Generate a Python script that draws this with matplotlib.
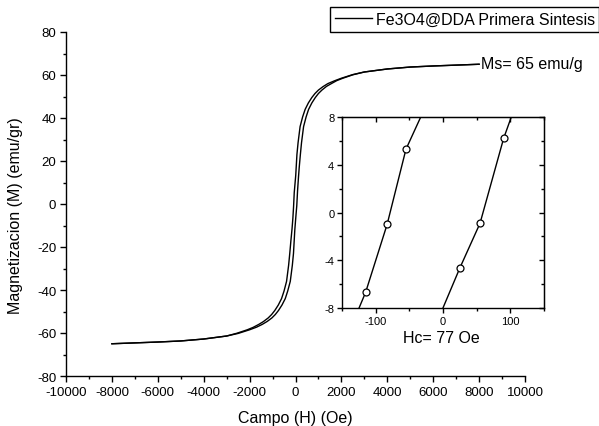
import numpy as np
import matplotlib
matplotlib.use("Agg")
import matplotlib.pyplot as plt
from matplotlib.ticker import MultipleLocator

plt.rcParams['font.family'] = ['Liberation Sans', 'DejaVu Sans']
plt.rcParams['axes.unicode_minus'] = False

# rama ascendente (campo creciente), H en Oe, M en emu/g
h_asc = [-8000, -7000, -6000, -5000, -4000, -3000, -2500, -2000, -1700, -1450,
         -1230, -1030, -880, -740, -590, -446, -340, -228, -138, -88, -30, 25,
         55, 90, 130, 162, 212, 262, 352, 462, 570, 712, 862, 1000, 1152, 1350,
         1562, 1800, 2062, 2500, 3000, 4000, 5000, 6000, 7000, 8000]
m_asc = [-65.0, -64.6, -64.2, -63.7, -62.8, -61.4, -60.2, -58.5, -57.3, -56.0,
         -54.6, -53.0, -51.4, -49.5, -47.0, -44.0, -40.5, -36.0, -28.5, -23.0,
         -12.0, -4.65, -0.9, 6.2, 12.5, 17.0, 23.0, 28.5, 36.0, 40.5, 44.0,
         47.0, 49.5, 51.4, 53.0, 54.7, 56.0, 57.4, 58.5, 60.1, 61.4, 62.8,
         63.7, 64.2, 64.6, 65.0]

# rama descendente (campo decreciente)
h_desc = [8000, 7000, 6000, 5000, 4000, 3000, 2500, 2000, 1700, 1410, 1200,
          1000, 850, 710, 560, 420, 310, 200, 112, 62, 10, -55, -83, -115,
          -150, -200, -250, -300, -390, -500, -608, -750, -900, -1040, -1190,
          -1400, -1600, -1850, -2100, -2550, -3000, -4000, -5000, -6000, -7000,
          -8000]
m_desc = [65.0, 64.6, 64.2, 63.7, 62.8, 61.4, 60.2, 58.5, 57.3, 56.0, 54.6,
          53.0, 51.4, 49.5, 47.0, 44.0, 40.5, 36.0, 28.5, 23.0, 13.3, 5.3,
          -1.0, -6.7, -11.4, -17.0, -23.0, -28.5, -36.0, -40.5, -44.0, -47.0,
          -49.5, -51.4, -53.0, -54.7, -56.0, -57.4, -58.5, -60.1, -61.4, -62.8,
          -63.7, -64.2, -64.6, -65.0]

# puntos marcados en el inset (cerca del campo coercitivo)
h_mark_asc = [25, 55, 90]
m_mark_asc = [-4.65, -0.9, 6.2]
h_mark_desc = [-55, -83, -115]
m_mark_desc = [5.3, -1.0, -6.7]

fig = plt.figure(figsize=(5.99, 4.27), dpi=100)

################## grafico principal ##################
ax = fig.add_axes([66/599, 1-377/427, 459/599, 344/427])
ax.plot(h_asc, m_asc, 'k-', lw=1.0)
ax.plot(h_desc, m_desc, 'k-', lw=1.0)
ax.set_xlim(-10000, 10000)
ax.set_ylim(-80, 80)
ax.xaxis.set_major_locator(MultipleLocator(2000))
ax.xaxis.set_minor_locator(MultipleLocator(1000))
ax.yaxis.set_major_locator(MultipleLocator(20))
ax.yaxis.set_minor_locator(MultipleLocator(10))
ax.spines['top'].set_visible(False)
ax.spines['right'].set_visible(False)
for s in ['left', 'bottom']:
    ax.spines[s].set_linewidth(1.0)
ax.tick_params(which='both', direction='out', width=1.0, labelsize=9.5, pad=3)
ax.tick_params(which='major', length=4)
ax.tick_params(which='minor', length=2.5)

ax.set_xlabel('Campo (H) (Oe)', fontsize=11.5)
ax.set_ylabel('Magnetizacion (M) (emu/gr)', fontsize=11.5)
ax.xaxis.set_label_coords(0.5, -0.122)
ax.xaxis.label.set_va('center')
ax.yaxis.set_label_coords(-0.109, 0.469)
ax.yaxis.label.set_va('center')

fig.legend(handles=ax.lines[:1], labels=['Fe3O4@DDA Primera Sintesis'],
           loc='upper left', bbox_to_anchor=(330/599, 1-8/427),
           fontsize=11.5, frameon=True, fancybox=False, edgecolor='black',
           framealpha=1, borderpad=0.3, handlelength=2.3, handletextpad=0.25,
           borderaxespad=0).get_frame().set_linewidth(1.0)

fig.text(481/599, 1-65/427, 'Ms= 65 emu/g', fontsize=11.5, va='center', ha='left')
fig.text(441/599, 1-339/427, 'Hc= 77 Oe', fontsize=11.5, va='center', ha='center')

################## inset ##################
ins = fig.add_axes([342/599, 1-309/427, 202/599, 191/427])
ins.plot(h_asc, m_asc, 'k-', lw=1.0)
ins.plot(h_desc, m_desc, 'k-', lw=1.0)
ins.plot(h_mark_asc, m_mark_asc, 'o', mfc='white', mec='black', ms=5, mew=0.9)
ins.plot(h_mark_desc, m_mark_desc, 'o', mfc='white', mec='black', ms=5, mew=0.9)
ins.set_xlim(-150, 150)
ins.set_ylim(-8, 8)
ins.xaxis.set_major_locator(MultipleLocator(100))
ins.xaxis.set_minor_locator(MultipleLocator(50))
ins.yaxis.set_major_locator(MultipleLocator(4))
ins.yaxis.set_minor_locator(MultipleLocator(2))
for s in ins.spines.values():
    s.set_linewidth(1.0)
ins.tick_params(which='both', direction='out', width=1.0, labelsize=8, pad=2)
ins.tick_params(which='major', length=3.5)
ins.tick_params(which='minor', length=2)

top = ins.secondary_xaxis('top')
top.xaxis.set_major_locator(MultipleLocator(100))
top.xaxis.set_minor_locator(MultipleLocator(50))
top.tick_params(which='both', direction='in', labeltop=False, width=1.0)
top.tick_params(which='major', length=3.5)
top.tick_params(which='minor', length=2)
right = ins.secondary_yaxis('right')
right.yaxis.set_major_locator(MultipleLocator(4))
right.yaxis.set_minor_locator(MultipleLocator(2))
right.tick_params(which='both', direction='in', labelright=False, width=1.0)
right.tick_params(which='major', length=3.5)
right.tick_params(which='minor', length=2)

fig.savefig('out.png', dpi=100)
